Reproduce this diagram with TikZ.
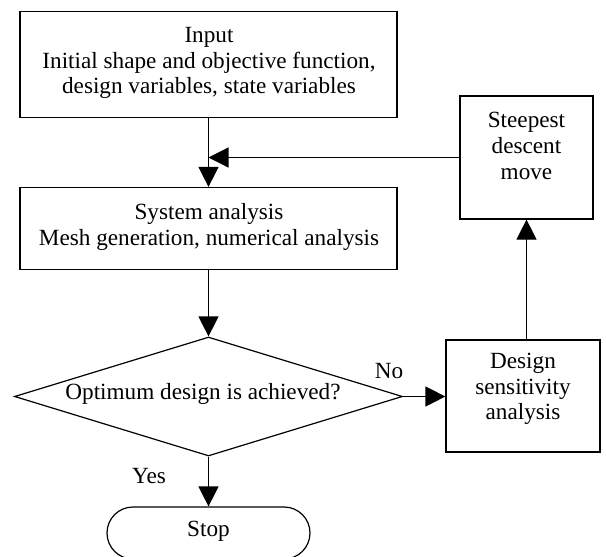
\documentclass[tikz,border=0pt]{standalone}
\usepackage{fontspec}
\setmainfont{Liberation Serif}
\usetikzlibrary{shapes.geometric,arrows.meta}
\begin{document}
\begin{tikzpicture}[x=1pt,y=-1pt,
  every node/.style={font=\fontsize{23.2}{25.8}\selectfont, align=center, inner sep=0pt},
  box/.style={draw, line width=1.2pt, rectangle},
  arr/.style={line width=1.2pt, -{Triangle[length=20pt,width=20pt]}},
  conn/.style={line width=1.2pt}]
\useasboundingbox (0,0) rectangle (606,557);
\clip (0,0) rectangle (606,557);
% boxes
\node[box, minimum width=377pt, minimum height=106pt] (in) at (208.5,64.5) {};
\node (intxt) at (209,63) {Input\\Initial shape and objective function,\\design variables, state variables};
\node[box, minimum width=377pt, minimum height=82pt] (sys) at (208.5,228.5) {};
\node (systxt) at (209,227) {System analysis\\Mesh generation, numerical analysis};
\node[draw, diamond, line width=1.2pt, minimum width=388pt, minimum height=119pt, shape aspect=3.26] (dec) at (208.5,396.5) {};
\node (dectxt) at (203,394) {Optimum design is achieved?};
\node[box, minimum width=133pt, minimum height=123pt] (sd) at (526.5,157.5) {};
\node (sdtxt) at (526.5,146) {Steepest\\descent\\move};
\node[box, minimum width=154pt, minimum height=112pt] (des) at (523,396) {};
\node (destxt) at (523,389) {Design\\sensitivity\\analysis};
\node[draw, line width=1.2pt, rectangle, rounded corners=26pt, minimum width=203pt, minimum height=52pt] (stop) at (208.5,533) {};
\node (stoptxt) at (208.5,531) {Stop};
% labels
\node (no) at (389,371) {No};
\node (yes) at (149,476) {Yes};
% connectors
\draw[arr] (in.south) -- (sys.north);
\draw[arr] (sd.west) -- (sd.west -| sys.north);
\draw[arr] (sys.south) -- (dec.north);
\draw[arr] (dec.east) -- (des.west |- dec.east);
\draw[arr] (des.north -| sd.south) -- (sd.south);
\draw[arr] (dec.south) -- (stop.north);
\end{tikzpicture}
\end{document}
